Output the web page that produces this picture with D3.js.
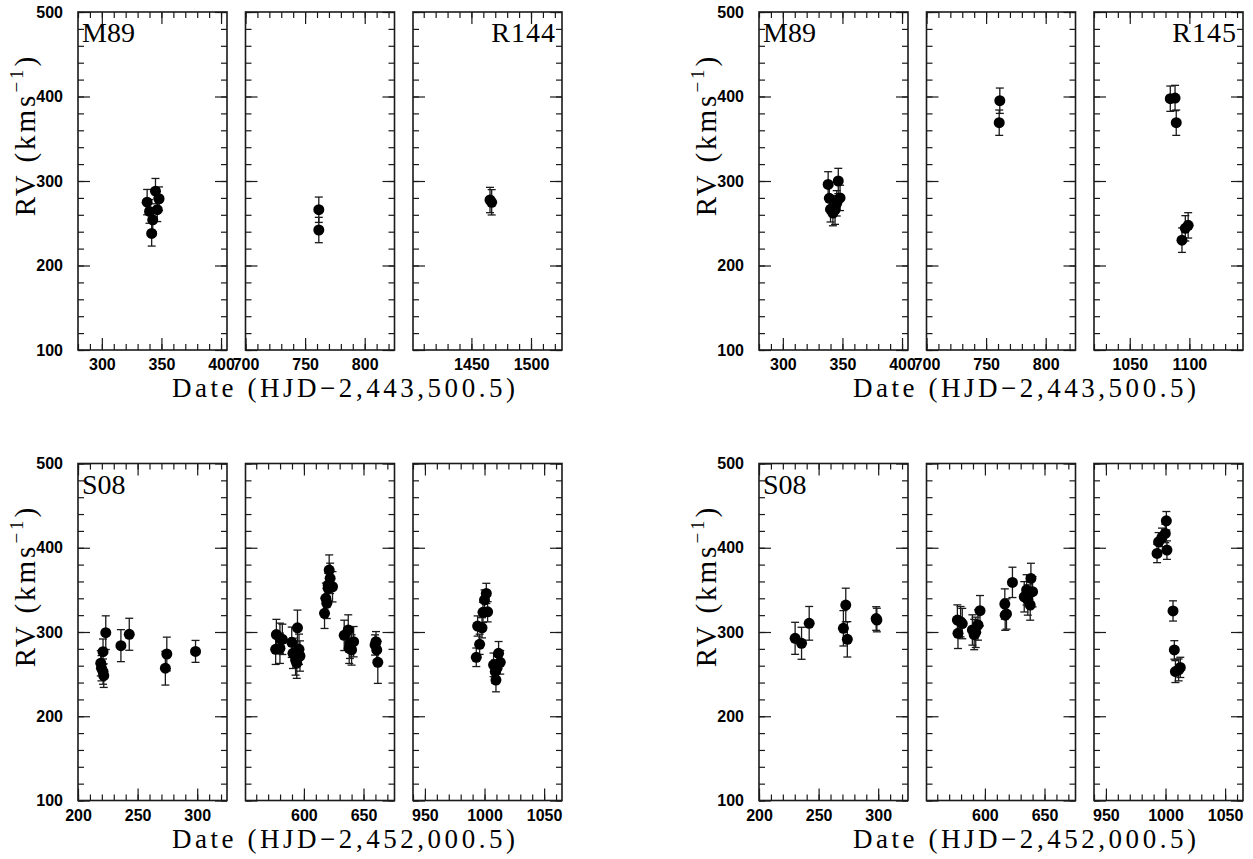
<!DOCTYPE html>
<html><head><meta charset="utf-8">
<script src="https://cdn.jsdelivr.net/npm/d3@7/dist/d3.min.js"></script>
<style>body{margin:0;background:#fff}</style></head>
<body><svg id="c" width="1253" height="859"></svg>
<script>
// ---- data: [date, RV, error] ----
const R144_M89_A = [[338,275,15],[345,288,15],[348,279,14],[340,264,14],[346.5,266,14],[342.7,254,14],[341.8,238,15]];
const R144_M89_B = [[761.5,266,15],[761.5,242,15]];
const R144_M89_C = [[1465.6,277.5,15],[1467,274.8,15]];
const R145_M89_A = [[338,296,15],[339,279.5,15],[346.5,300,15],[348,280,15],[340,266.5,15],[343.8,265.7,17],[345.2,273.6,15],[342,262,15]];
const R145_M89_B = [[761.5,395,15],[761,369,15]];
const R145_M89_C = [[1084,397.4,15],[1088,398.2,15],[1089,369,15],[1093.8,230,14.5],[1096.6,244,15],[1099,247.5,15]];
const R144_S08_A = [[219.1,262.9,15],[219.7,257,15],[221,253,15],[221.6,248.2,14],[221,276.7,15],[223.3,299.2,20],[236,283.8,19],[243,297.3,19],[273.3,257,20],[274.5,273.9,20],[298.6,277,13]];
const R144_S08_B = [[576.9,297,18],[579.9,292.5,18],[581.9,291.3,18],[576.3,279.5,18],[579.9,280.7,18],[589.8,287.8,18],[594.6,305,21],[590.8,274.7,18],[593,266.8,18],[595.9,279.5,18],[596.7,271.5,18],[594,263,18],[617.3,322.2,18],[618.4,340,18],[619.2,334,18],[620.3,355.7,18],[622,363.7,18],[621.2,373.5,18],[620.3,351.8,18],[624,353.7,18],[633.8,296,18],[637.2,302.4,18],[638.6,286.6,18],[640,278.7,18],[641.7,288.5,18],[638,280.7,18],[659.7,284.6,12],[661.1,278.7,12],[660.5,288.5,12],[662,264,25]];
const R144_S08_C = [[993.1,270,11],[994.2,307.1,12],[997.9,305,12],[995.9,285.4,12],[998.7,323.3,12],[1002.6,324,12],[1000,338,12],[1001.5,345.8,12],[1007.6,261,14],[1009,253,14],[1009.6,243,14],[1011.8,274.7,14],[1013.2,264,14],[1010.5,257,14]];
const R145_S08_A = [[230.3,292.5,19],[235.7,286.6,19],[242.1,310.3,20],[270.8,304.4,21],[272.8,332,20],[274.1,291.3,21],[298.9,314.2,14],[298.3,316,14]];
const R145_S08_B = [[576.9,314.2,18],[579.6,312.2,18],[577.4,298.4,18],[581,310,18],[589.5,302.4,18],[592.3,299.6,18],[594.2,308.3,18],[595.9,325.3,18],[591,297,18],[616.7,333.2,18],[618.1,321.4,18],[623.1,358.9,18],[617,320,18],[633,341.8,18],[638.6,363.6,18],[640,347.8,18],[638,332,18],[636,338,18],[635,350,18]];
const R145_S08_C = [[992.9,393.3,11],[994.2,407,11],[997,412.3,11],[999.8,417,11],[1001.2,397.2,11],[1000.7,432,11],[1006.3,325,12],[1007.4,278.7,11],[1008.3,253,13],[1011,255,13],[1012.4,258,12]];

// x-ranges of panels
const M89_DOMAINS = [[280,405],[700,825]];
const R144_M89_C_DOMAIN = [1401,1526];
const R145_M89_C_DOMAIN = [1020,1145];
const S08_DOMAINS = [[200,325],[551,676],[940,1065]];
const Y_DOMAIN = [100,500];
const Y_TICKS = [100,200,300,400,500];
const DATE_LABEL_M89 = "Date (HJD\u22122,443,500.5)";
const DATE_LABEL_S08 = "Date (HJD\u22122,452,000.5)";

// ---- layout ----
const svg = d3.select('#c');
const PW = 149;
const groups = [
  {gx:0,   top:12,    bot:350,   domains:[M89_DOMAINS[0],M89_DOMAINS[1],R144_M89_C_DOMAIN], data:[R144_M89_A,R144_M89_B,R144_M89_C], tl:"M89", tr:"R144", xl:DATE_LABEL_M89},
  {gx:681, top:12,    bot:350,   domains:[M89_DOMAINS[0],M89_DOMAINS[1],R145_M89_C_DOMAIN], data:[R145_M89_A,R145_M89_B,R145_M89_C], tl:"M89", tr:"R145", xl:DATE_LABEL_M89},
  {gx:0,   top:463.5, bot:800.5, domains:S08_DOMAINS, data:[R144_S08_A,R144_S08_B,R144_S08_C], tl:"S08", tr:"", xl:DATE_LABEL_S08},
  {gx:681, top:463.5, bot:800.5, domains:S08_DOMAINS, data:[R145_S08_A,R145_S08_B,R145_S08_C], tl:"S08", tr:"", xl:DATE_LABEL_S08}
];
const lefts = [78, 245.5, 413];
const INK = "#1a1a1a";

groups.forEach(g => {
  const y = d3.scaleLinear().domain(Y_DOMAIN).range([g.bot, g.top]);
  g.domains.forEach((dom, i) => {
    const x0 = g.gx + lefts[i];
    const x = d3.scaleLinear().domain(dom).range([x0, x0 + PW]);
    const p = svg.append('g');
    const minorX = d3.range(Math.ceil(dom[0]/10)*10, dom[1]+0.01, 10);
    const majorX = d3.range(Math.ceil(dom[0]/50)*50, dom[1]+0.01, 50);
    const minorY = d3.range(100, 501, 20);
    p.append('g').attr('transform',`translate(0,${g.bot})`)
      .call(d3.axisBottom(x).tickValues(minorX).tickSize(-6).tickFormat(''));
    p.append('g').attr('transform',`translate(0,${g.bot})`)
      .call(d3.axisBottom(x).tickValues(majorX).tickSize(-12).tickPadding(9).tickFormat(d3.format('d')));
    p.append('g').attr('transform',`translate(0,${g.top})`)
      .call(d3.axisTop(x).tickValues(minorX).tickSize(-6).tickFormat(''));
    p.append('g').attr('transform',`translate(0,${g.top})`)
      .call(d3.axisTop(x).tickValues(majorX).tickSize(-12).tickFormat(''));
    p.append('g').attr('transform',`translate(${x0},0)`)
      .call(d3.axisLeft(y).tickValues(minorY).tickSize(-6).tickFormat(''));
    p.append('g').attr('transform',`translate(${x0},0)`)
      .call(d3.axisLeft(y).tickValues(Y_TICKS).tickSize(-12).tickPadding(15).tickFormat(i===0 ? d3.format('d') : ''));
    p.append('g').attr('transform',`translate(${x0+PW},0)`)
      .call(d3.axisRight(y).tickValues(minorY).tickSize(-6).tickFormat(''));
    p.append('g').attr('transform',`translate(${x0+PW},0)`)
      .call(d3.axisRight(y).tickValues(Y_TICKS).tickSize(-12).tickFormat(''));
    p.selectAll('.domain').remove();
    p.append('rect').attr('x',x0).attr('y',g.top).attr('width',PW).attr('height',g.bot-g.top)
      .attr('fill','none').attr('stroke',INK).attr('stroke-width',1.6);
    p.selectAll('.tick line').attr('stroke',INK).attr('stroke-width',1.2);
    p.selectAll('.tick text').attr('fill','#000').style('font-family','"Liberation Sans",Arial,sans-serif')
      .style('font-weight','bold').style('font-size','16px');

    const d = g.data[i];
    const eb = p.append('g').attr('stroke',INK).attr('stroke-width',1.3);
    eb.selectAll('line.v').data(d).join('line').attr('class','v')
      .attr('x1',v=>x(v[0])).attr('x2',v=>x(v[0])).attr('y1',v=>y(v[1]-v[2])).attr('y2',v=>y(v[1]+v[2]));
    eb.selectAll('line.t').data(d).join('line').attr('class','t')
      .attr('x1',v=>x(v[0])-4).attr('x2',v=>x(v[0])+4).attr('y1',v=>y(v[1]+v[2])).attr('y2',v=>y(v[1]+v[2]));
    eb.selectAll('line.b').data(d).join('line').attr('class','b')
      .attr('x1',v=>x(v[0])-4).attr('x2',v=>x(v[0])+4).attr('y1',v=>y(v[1]-v[2])).attr('y2',v=>y(v[1]-v[2]));
    p.selectAll('circle').data(d).join('circle')
      .attr('cx',v=>x(v[0])).attr('cy',v=>y(v[1])).attr('r',5.5).attr('fill','#000');
  });
  const serif = '"Liberation Serif","Times New Roman",serif';
  svg.append('text').attr('x',g.gx+lefts[0]+4).attr('y',g.top+30).text(g.tl)
    .style('font-family',serif).style('font-size','28px');
  if (g.tr) svg.append('text').attr('x',g.gx+lefts[2]+PW-6).attr('y',g.top+30).attr('text-anchor','end').text(g.tr)
    .style('font-family',serif).style('font-size','28px').style('letter-spacing','1px');
  svg.append('text').attr('x',g.gx+172).attr('y',g.bot+47).text(g.xl)
    .attr('textLength',343).attr('lengthAdjust','spacing')
    .style('font-family',serif).style('font-size','27px');
  const yl = svg.append('text').attr('transform',`translate(${g.gx+35},${(g.top+g.bot)/2 - 46}) rotate(-90)`)
    .attr('text-anchor','middle').style('font-family',serif).style('font-size','29px').style('letter-spacing','3px');
  yl.append('tspan').text('RV (kms');
  yl.append('tspan').attr('dy',-12).style('font-size','19px').text('\u22121');
  yl.append('tspan').attr('dy',12).text(')');
});
</script></body></html>
